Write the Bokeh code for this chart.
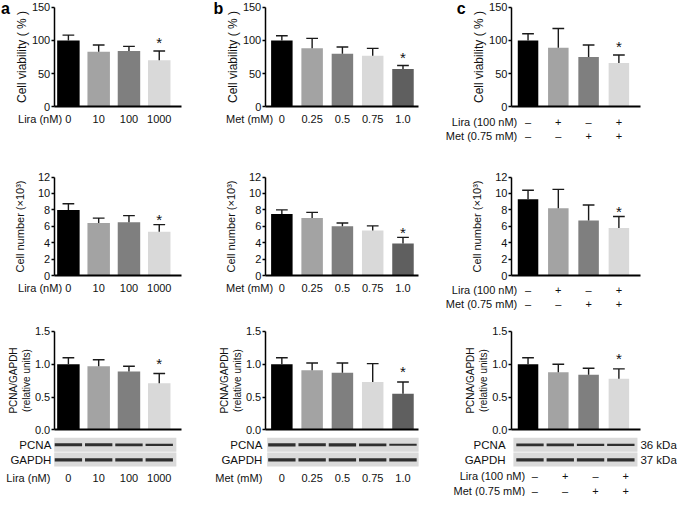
import math
from bokeh.plotting import figure
from bokeh.layouts import gridplot
from bokeh.models import Range1d, FixedTicker, NumeralTickFormatter
from bokeh.core.properties import value
from bokeh.embed import file_html
from bokeh.resources import INLINE

FONT = "Liberation Sans"

# ---------------- data ----------------
lira_doses = ["0", "10", "100", "1000"]
met_doses = ["0", "0.25", "0.5", "0.75", "1.0"]
combo_lira = ["–", "+", "–", "+"]
combo_met = ["–", "–", "+", "+"]

viab_lira = [100, 83, 84, 70]
viab_lira_err = [8, 10, 7, 14]
viab_met = [100, 88, 80, 77, 57]
viab_met_err = [7, 15, 10, 11, 5]
viab_combo = [100, 89, 75, 66]
viab_combo_err = [10, 29, 18, 12]

num_lira = [8.0, 6.4, 6.5, 5.35]
num_lira_err = [0.75, 0.6, 0.8, 0.85]
num_met = [7.5, 7.0, 6.0, 5.5, 3.9]
num_met_err = [0.5, 0.7, 0.4, 0.55, 0.75]
num_combo = [9.3, 8.2, 6.7, 5.8]
num_combo_err = [1.1, 2.3, 1.9, 1.4]

pcna_lira = [1.0, 0.97, 0.89, 0.71]
pcna_lira_err = [0.10, 0.10, 0.08, 0.15]
pcna_met = [1.0, 0.91, 0.87, 0.73, 0.55]
pcna_met_err = [0.10, 0.11, 0.15, 0.28, 0.18]
pcna_combo = [1.0, 0.88, 0.84, 0.78]
pcna_combo_err = [0.10, 0.12, 0.10, 0.15]

sig_lira = [False, False, False, True]
sig_met = [False, False, False, False, True]
sig_combo = [False, False, False, True]

# western blot band strength (band thickness, px)
pcna_band_lira = [3.0, 3.0, 2.6, 2.4]
gapdh_band_lira = [3.2, 3.2, 3.2, 3.2]
pcna_band_met = [3.2, 3.0, 3.2, 2.6, 2.0]
gapdh_band_met = [3.4, 3.4, 3.4, 3.4, 3.4]
pcna_band_combo = [2.8, 2.8, 2.4, 2.4]
gapdh_band_combo = [3.2, 3.2, 3.2, 3.2]

colors_4 = ["#000000", "#a3a3a3", "#7f7f7f", "#d9d9d9"]
colors_5 = ["#000000", "#a3a3a3", "#7f7f7f", "#d9d9d9", "#5f5f5f"]

ROW_TITLES = ["Cell viability ( % )", "Cell number (×10³)", "PCNA/GAPDH\n(relative units)"]
ROW_TICKS = [[0, 50, 100, 150], [0, 2, 4, 6, 8, 10, 12], [0, 0.5, 1.0, 1.5]]
ROW_MAX = [150, 12, 1.5]

COL_GROUPS = [
    (["Lira (nM)"], [lira_doses]),
    (["Met (mM)"], [met_doses]),
    (["Lira (100 nM)", "Met (0.75 mM)"], [combo_lira, combo_met]),
]
VALUES = [
    [(viab_lira, viab_lira_err, sig_lira), (viab_met, viab_met_err, sig_met), (viab_combo, viab_combo_err, sig_combo)],
    [(num_lira, num_lira_err, sig_lira), (num_met, num_met_err, sig_met), (num_combo, num_combo_err, sig_combo)],
    [(pcna_lira, pcna_lira_err, sig_lira), (pcna_met, pcna_met_err, sig_met), (pcna_combo, pcna_combo_err, sig_combo)],
]
BANDS = [(pcna_band_lira, gapdh_band_lira), (pcna_band_met, gapdh_band_met), (pcna_band_combo, gapdh_band_combo)]
COL_COLORS = [colors_4, colors_5, colors_4]
LETTERS = ["a", "b", "c"]

# ---------------- geometry (reference pixels) ----------------
REF_W, REF_H = 693, 514
W, H = 677, 496
SX, SY = W / REF_W, H / REF_H
COL_EDGES = [0, 215, 445, 693]
ROW_EDGES = [0, 160, 330, 514]
CX = [round(e * SX) for e in COL_EDGES]
CY = [round(e * SY) for e in ROW_EDGES]

COLS = [
    dict(axis=55, c0=69.5, d=31.0, bw=23.0, end=185.0, letter_x=0.5, blot=(55, 180), blot_name=52.0, band_shift=0.0),
    dict(axis=271, c0=288.0, d=31.0, bw=22.0, end=428.0, letter_x=218.0, blot=(273, 428), blot_name=268.0, band_shift=0.0),
    dict(axis=523, c0=540.0, d=31.0, bw=21.0, end=655.0, letter_x=467.0, blot=(525, 652), blot_name=517.0, band_shift=2.0),
]
ROWS = [
    dict(zero=110, top=7, title_size="12px", title_standoff=0, star=13),
    dict(zero=285, top=183, title_size="11px", title_standoff=9, star=9.5),
    dict(zero=445, top=343, title_size="10px", title_standoff=0, star=15),
]
LABEL_Y = {(0, 0): [123], (0, 1): [123], (0, 2): [126, 140],
           (1, 0): [298], (1, 1): [298], (1, 2): [300, 315],
           (2, 0): [495], (2, 1): [495], (2, 2): [493, 508]}
NAME_END = {(0, 0): 63, (1, 0): 63, (2, 0): 51,
            (0, 1): 279, (1, 1): 279, (2, 1): 268,
            (0, 2): 529, (1, 2): 529, (2, 2): 537}
LABEL_SHIFT = {(2, 2): 7.0}


def make_cell(ri, ci):
    cs, rs = COLS[ci], ROWS[ri]
    cx0, cx1, cy0, cy1 = CX[ci], CX[ci + 1], CY[ri], CY[ri + 1]
    vmax = ROW_MAX[ri]
    k = (rs["zero"] - rs["top"]) / vmax

    def X(r):
        return (r - cs["c0"]) / cs["d"]

    def Y(r):
        return (rs["zero"] - r) / k

    p = figure(width=cx1 - cx0, height=cy1 - cy0,
               x_range=Range1d(X(cx0 / SX), X(cx1 / SX)),
               y_range=Range1d(Y(cy1 / SY), Y(cy0 / SY)),
               output_backend="svg", toolbar_location=None, min_border=0,
               outline_line_color=None, background_fill_color="white",
               border_fill_color="white")
    p.xgrid.visible = False
    p.ygrid.visible = False

    vals, errs, sig = VALUES[ri][ci]
    n = len(vals)
    idx = list(range(n))
    colors = COL_COLORS[ci]

    p.vbar(x=idx, top=vals, bottom=0, width=cs["bw"] / cs["d"],
           fill_color=colors[:n], line_color=None)
    caps = [v + e for v, e in zip(vals, errs)]
    cw = 6.0 / cs["d"]
    p.segment(x0=idx, y0=vals, x1=idx, y1=caps, line_color="#1a1a1a", line_width=1.4)
    p.segment(x0=[i - cw for i in idx], y0=caps, x1=[i + cw for i in idx], y1=caps,
              line_color="#1a1a1a", line_width=1.4)
    sx = [i for i in idx if sig[i]]
    sy = [caps[i] + rs["star"] / k for i in idx if sig[i]]
    p.text(x=sx, y=sy, text=["*"] * len(sx), text_align="center", text_baseline="middle",
           text_font=value(FONT), text_font_size="15px", text_color="#111111",
           y_offset=4)

    # axes
    ya = p.yaxis[0]
    ya.fixed_location = X(cs["axis"])
    ya.bounds = (0, vmax)
    ya.ticker = FixedTicker(ticks=ROW_TICKS[ri])
    if ri == 2:
        ya.formatter = NumeralTickFormatter(format="0.0")
    ya.major_tick_out = 3
    ya.major_tick_in = 0
    ya.minor_tick_out = 0
    ya.minor_tick_in = 0
    ya.axis_line_width = 1.5
    ya.major_tick_line_width = 1.5
    ya.major_label_standoff = 1
    ya.major_label_text_font = FONT
    ya.major_label_text_font_size = "11px"
    ya.major_label_text_color = "#111111"
    ya.axis_label = ROW_TITLES[ri]
    ya.axis_label_text_font = FONT
    ya.axis_label_text_font_size = rs["title_size"]
    ya.axis_label_text_font_style = "normal"
    ya.axis_label_text_color = "#111111"
    ya.axis_label_standoff = rs["title_standoff"]

    xa = p.xaxis[0]
    xa.fixed_location = 0
    xa.bounds = (X(cs["axis"]), X(cs["end"]))
    xa.ticker = FixedTicker(ticks=[])
    xa.axis_line_width = 2
    xa.major_tick_line_color = None
    xa.minor_tick_line_color = None

    # group labels
    names, groups = COL_GROUPS[ci]
    shift = LABEL_SHIFT.get((ri, ci), 0.0) / cs["d"]
    for name, entries, ly in zip(names, groups, LABEL_Y[(ri, ci)]):
        p.text(x=[X(NAME_END[(ri, ci)])], y=[Y(ly)], text=[name], text_align="right",
               text_baseline="middle", text_font=value(FONT), text_font_size="11px",
               text_color="#111111")
        p.text(x=[i + shift for i in range(len(entries))], y=[Y(ly)] * len(entries),
               text=entries, text_align="center", text_baseline="middle",
               text_font=value(FONT), text_font_size="11px", text_color="#111111")

    if ri == 0:
        p.text(x=[X(cs["letter_x"])], y=[Y(8)], text=[LETTERS[ci]], text_align="left",
               text_baseline="middle", text_font=value(FONT), text_font_size="16px",
               text_font_style="bold", text_color="#000000")

    if ri == 2:
        bl, br = cs["blot"]
        p.quad(left=[X(bl), X(bl)], right=[X(br), X(br)], top=[Y(453), Y(468.5)],
               bottom=[Y(467.5), Y(483)], fill_color="#dadada", line_color=None)
        pc, gd = BANDS[ci]
        bx = [i + cs["band_shift"] / cs["d"] for i in idx]
        bw = (cs["d"] - 3.0) / cs["d"]
        p.rect(x=bx, y=[Y(460.5)] * n, width=bw, height=pc, height_units="screen",
               fill_color="#1c1c1c", line_color=None, fill_alpha=0.9)
        p.rect(x=bx, y=[Y(476)] * n, width=bw, height=gd, height_units="screen",
               fill_color="#1c1c1c", line_color=None, fill_alpha=0.9)
        p.text(x=[X(cs["blot_name"])] * 2, y=[Y(461), Y(476)], text=["PCNA", "GAPDH"],
               text_align="right", text_baseline="middle", text_font=value(FONT),
               text_font_size="11.5px", text_color="#111111")
        if ci == 2:
            p.text(x=[X(655)] * 2, y=[Y(461), Y(476)], text=["36 kDa", "37 kDa"],
                   text_align="left", text_baseline="middle", text_font=value(FONT),
                   text_font_size="11.5px", text_color="#111111")
    return p


children = [[make_cell(ri, ci) for ci in range(3)] for ri in range(3)]
grid = gridplot(children, toolbar_location=None)
open("out.html", "w").write(file_html(grid, INLINE, title="Cell viability, cell number and PCNA"))
